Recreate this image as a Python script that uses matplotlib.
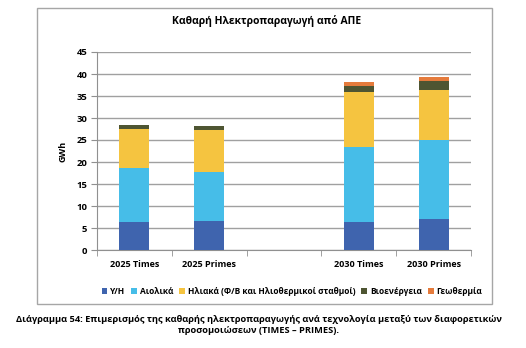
import numpy as np
from matplotlib import pyplot as plt
from matplotlib.patches import Rectangle

plt.rcParams['font.family'] = ['Open Sans', 'DejaVu Sans']

# Scenario slots (the middle one is an empty gap)
categories = ["2025 Times", "2025 Primes", "", "2030 Times", "2030 Primes"]

# Net generation per technology, GWh
hydro = [6.3, 6.7, 0, 6.3, 7.05]
wind = [12.4, 11.1, 0, 17.0, 17.95]
solar = [8.9, 9.5, 0, 12.7, 11.3]
bio = [0.9, 0.9, 0, 1.35, 2.2]
geo = [0.0, 0.0, 0, 0.85, 0.75]

series = [
    ("Υ/Η", hydro, "#3F64AE"),
    ("Αιολικά", wind, "#46BDE8"),
    ("Ηλιακά (Φ/Β και Ηλιοθερμικοί σταθμοί)", solar, "#F5C440"),
    ("Βιοενέργεια", bio, "#4E5532"),
    ("Γεωθερμία", geo, "#E57B3C"),
]

fig = plt.figure(figsize=(5.26, 3.48), dpi=100)
ax = fig.add_axes([97 / 526, 1 - 250 / 348, 374 / 526, 198 / 348])

# outer chart frame
fig.patches.append(Rectangle((37 / 526, 1 - 304 / 348), 455 / 526, 296 / 348,
                             transform=fig.transFigure, fill=False,
                             edgecolor="#A6A6A6", linewidth=1.0))

x = np.arange(len(categories))
bottom = np.zeros(len(categories))
for name, vals, col in series:
    vals = np.array(vals)
    ax.bar(x, vals, 0.4, bottom=bottom, color=col, label=name, zorder=3)
    bottom += vals

ax.set_xlim(-0.5, len(categories) - 0.5)
ax.set_ylim(0, 45)
ax.set_yticks(np.arange(0, 46, 5))
ax.yaxis.grid(True, color="#A0A0A0", linewidth=1.0, zorder=0)
ax.set_xticks(x)
ax.set_xticklabels(categories, fontsize=6.5, fontweight="bold")
ax.set_xticks(np.arange(-0.5, len(categories), 1), minor=True)
ax.tick_params(axis="x", which="major", length=0, pad=7)
ax.tick_params(axis="x", which="minor", length=4, color="#909090")
ax.tick_params(axis="y", length=4, color="#909090", labelsize=6.8, pad=3)
for lab in ax.get_yticklabels():
    lab.set_fontweight("bold")

for s in ["top", "right"]:
    ax.spines[s].set_visible(False)
ax.spines["left"].set_color("#909090")
ax.spines["bottom"].set_color("#909090")

ax.set_ylabel("GWh", fontsize=6.5, fontweight="bold", labelpad=6)

fig.text(267 / 526, 1 - 21 / 348, "Καθαρή Ηλεκτροπαραγωγή από ΑΠΕ",
         ha="center", va="center", fontsize=7.5, fontweight="bold")

leg = ax.legend(loc="center", bbox_to_anchor=(292 / 526, 1 - 291 / 348),
                bbox_transform=fig.transFigure, ncol=5, frameon=False,
                fontsize=6.0, handlelength=0.7, handleheight=0.7,
                handletextpad=0.35, columnspacing=0.7)
for t in leg.get_texts():
    t.set_fontweight("bold")

fig.text(259 / 526, 1 - 325 / 348,
         "Διάγραμμα 54: Επιμερισμός της καθαρής ηλεκτροπαραγωγής ανά τεχνολογία μεταξύ των διαφορετικών\n"
         "προσομοιώσεων (TIMES – PRIMES).",
         ha="center", va="center", fontsize=6.7, fontweight="bold",
         linespacing=1.2)

fig.savefig("out.png", dpi=100)
